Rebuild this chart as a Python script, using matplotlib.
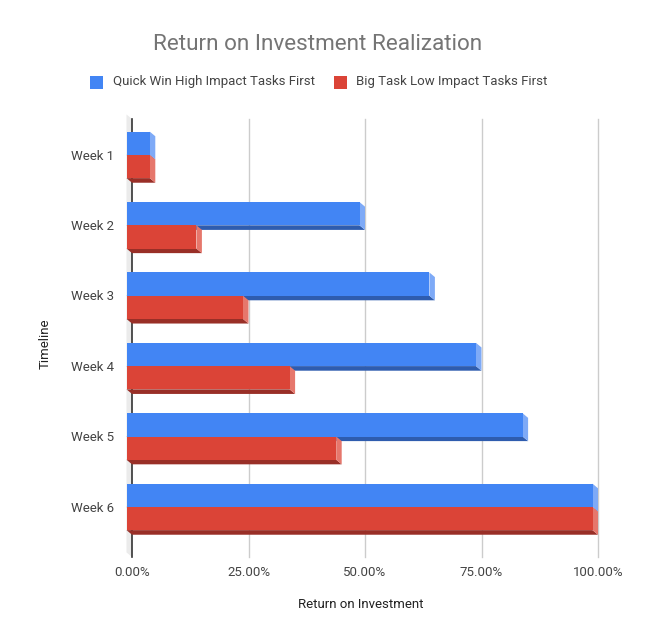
import matplotlib
matplotlib.use("Agg")
import matplotlib.pyplot as plt
from matplotlib.patches import Polygon, Rectangle

categories = ["Week 1", "Week 2", "Week 3", "Week 4", "Week 5", "Week 6"]
quick_win = [0.05, 0.50, 0.65, 0.75, 0.85, 1.00]
big_task = [0.05, 0.15, 0.25, 0.35, 0.45, 1.00]
series_names = ["Quick Win High Impact Tasks First", "Big Task Low Impact Tasks First"]
x_ticks = [0.0, 0.25, 0.5, 0.75, 1.0]
x_tick_labels = ["0.00%", "25.00%", "50.00%", "75.00%", "100.00%"]

W, H = 656, 634
DPI = 100
fig = plt.figure(figsize=(W / DPI, H / DPI), dpi=DPI)
fig.patch.set_facecolor("white")

# pixel geometry of the back plane
PX0, PX100 = 132, 598          # x pixel for 0% and 100%
PY0, BAND = 124.3, 70.4        # top of first band, band height in px
GRID_TOP, GRID_BOT = 119, 557
ax_left_px, ax_right_px = 118, 604
ax_top_px, ax_bot_px = 108, 562

def xd(px):
    return (px - PX0) / (PX100 - PX0)

def yd(py):
    return (py - PY0) / BAND

ax = fig.add_axes([ax_left_px / W, 1 - ax_bot_px / H,
                   (ax_right_px - ax_left_px) / W, (ax_bot_px - ax_top_px) / H])
ax.set_xlim(xd(ax_left_px), xd(ax_right_px))
ax.set_ylim(yd(ax_bot_px), yd(ax_top_px))
for s in ax.spines.values():
    s.set_visible(False)
ax.patch.set_alpha(0)

DX = 5.5 / (PX100 - PX0)
DY = 4.6 / BAND
n = len(categories)
gt, gb = yd(GRID_TOP), yd(GRID_BOT)

# wall
wall = Polygon([(-DX, gt - DY), (0, gt), (0, gb), (-DX, gb - DY)], closed=True,
               facecolor="#ebebeb", edgecolor="none", zorder=0)
ax.add_patch(wall)

# gridlines
for t in x_ticks[1:]:
    ax.plot([t, t], [gt, gb], color="#cccccc", lw=1, zorder=1)
ax.plot([0, 0], [gt, gb], color="#333333", lw=1.2, zorder=1)

def bar3d(v, a, b, front, side, bottom):
    ax.add_patch(Polygon([(-DX, b - DY), (v - DX, b - DY), (v, b), (0, b)],
                         closed=True, facecolor=bottom, edgecolor="none", zorder=3))
    ax.add_patch(Polygon([(v - DX, a - DY), (v, a), (v, b), (v - DX, b - DY)],
                         closed=True, facecolor=side, edgecolor="none", zorder=3))
    ax.add_patch(Rectangle((-DX, a - DY), v, b - a,
                           facecolor=front, edgecolor="none", zorder=4))

blue = ("#4285f4", "#7eaaf7", "#2e5cae")
red = ("#db4437", "#e6776c", "#992f27")
a1, m, b2 = 0.17, 0.5, 0.83
for i in range(n):
    bar3d(quick_win[i], i + a1, i + m, *blue)
for i in range(n):
    bar3d(big_task[i], i + m, i + b2, *red)

ax.set_yticks([i + 0.43 for i in range(n)])
ax.set_yticklabels(categories)
ax.set_xticks(x_ticks)
ax.set_xticklabels(x_tick_labels)
ax.tick_params(axis="both", length=0, labelsize=9.5, colors="#444444")
ax.tick_params(axis="y", pad=3)
ax.tick_params(axis="x", pad=3)
for lab in ax.get_xticklabels() + ax.get_yticklabels():
    lab.set_fontfamily("Roboto")

fig.text(361 / W, 1 - 605 / H, "Return on Investment", ha="center", va="center",
         fontsize=9.5, color="#222222", family="Roboto")
fig.text(45 / W, 1 - 344 / H, "Timeline", ha="center", va="center", rotation=90,
         fontsize=9.5, color="#222222", family="Roboto")
fig.text(318 / W, 1 - 44 / H, "Return on Investment Realization", ha="center", va="center",
         fontsize=16.2, color="#757575", family="Roboto")

# legend
leg_y = 82
for x_sq, x_txt, col, name in [(90, 113, blue[0], series_names[0]),
                               (334, 356, red[0], series_names[1])]:
    fig.patches.append(Rectangle((x_sq / W, 1 - (leg_y + 6.5) / H), 13 / W, 13 / H,
                                 transform=fig.transFigure, facecolor=col, edgecolor="none"))
    fig.text(x_txt / W, 1 - leg_y / H, name, ha="left", va="center",
             fontsize=9.5, color="#444444", family="Roboto")

fig.savefig("out.png", dpi=DPI)
